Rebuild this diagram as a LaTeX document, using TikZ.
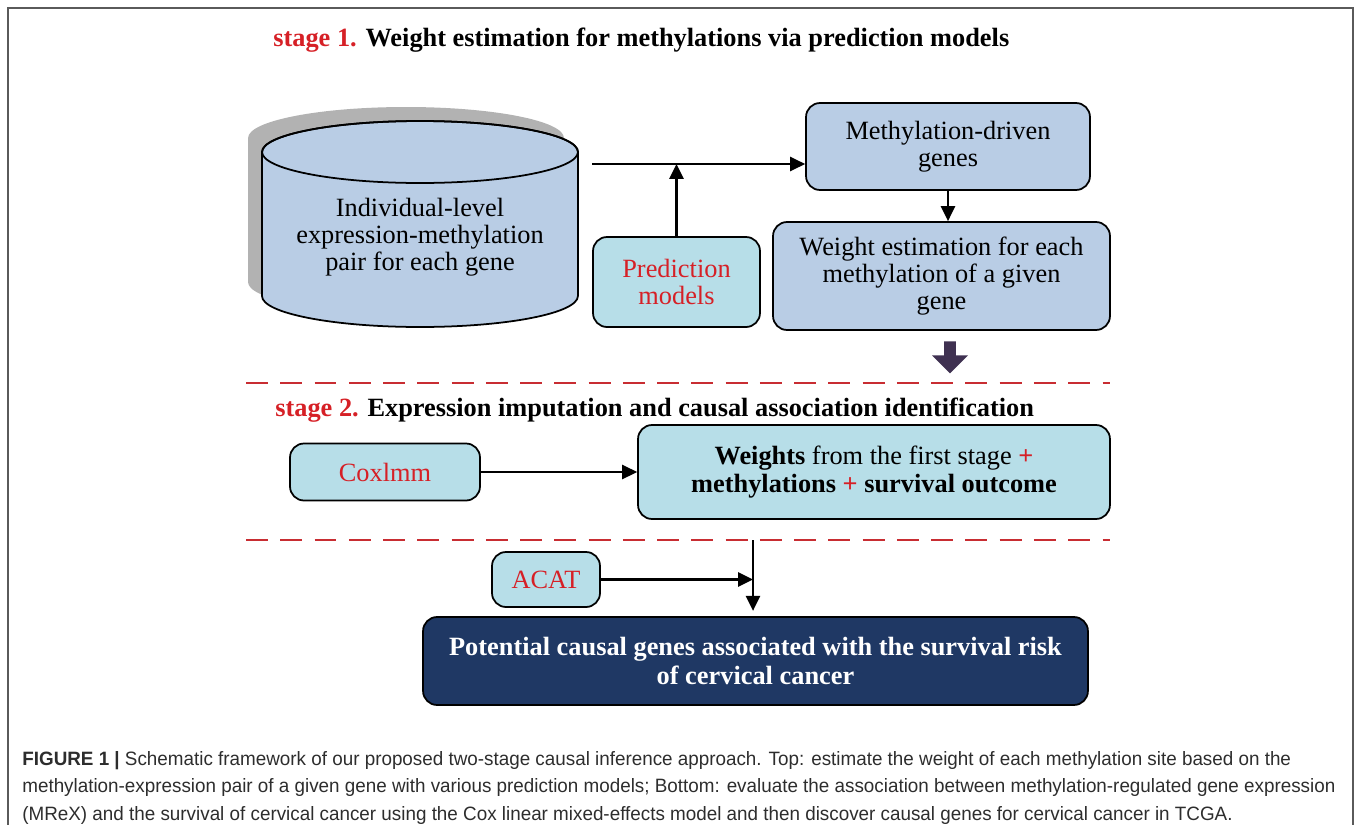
\documentclass[tikz,border=0pt]{standalone}
\usepackage{fontspec}
\setmainfont{Liberation Serif}
\newfontfamily\capfont[FakeStretch=0.975]{Liberation Sans}
\usetikzlibrary{arrows.meta,shapes.arrows,positioning,calc}
\definecolor{boxblue}{RGB}{185,205,229}
\definecolor{boxcyan}{RGB}{183,222,232}
\definecolor{navybox}{RGB}{31,56,100}
\definecolor{stagered}{RGB}{214,32,38}
\definecolor{dashred}{RGB}{200,45,50}
\definecolor{fatarrow}{RGB}{63,49,81}
\definecolor{framegray}{RGB}{90,90,90}
\definecolor{capgray}{RGB}{45,45,45}
\definecolor{shadowgray}{RGB}{178,178,178}

\begin{document}
\begin{tikzpicture}[x=0.02cm, y=-0.02cm,
    every node/.style={font=\fontsize{15}{15.5}\selectfont},
    box/.style={draw, line width=1pt, rounded corners=0.28cm, align=center, inner sep=0pt},
    bluebox/.style={box, fill=boxblue},
    cyanbox/.style={box, fill=boxcyan},
    conn/.style={line width=1.3pt, -{Triangle[length=8.5pt,width=8pt]}},
    sep/.style={dashred, line width=1.7pt, dash pattern=on 12.5pt off 7pt}]
    \useasboundingbox (0,0) rectangle (1357,825);
    \draw[framegray, line width=1.2pt] (8,840) -- (8,8) -- (1353,8) -- (1353,840);

    % stage 1
    \node[anchor=west, inner sep=0pt, font=\fontsize{15}{15.5}\selectfont\bfseries] (title1) at (273,40)
        {\textcolor{stagered}{stage 1.} Weight estimation for methylations via prediction models};

    % data cylinder with its shadow
    \fill[shadowgray] (248,138) -- (248,282) arc[start angle=180, end angle=360, x radius=3.16cm, y radius=0.62cm]
        -- (564,138) arc[start angle=0, end angle=180, x radius=3.16cm, y radius=0.62cm] -- cycle;
    \filldraw[fill=boxblue, line width=1pt] (262,152) -- (262,296) arc[start angle=180, end angle=360, x radius=3.16cm, y radius=0.62cm]
        -- (578,152) arc[start angle=0, end angle=180, x radius=3.16cm, y radius=0.62cm] -- cycle;
    \draw[line width=1pt] (420,152) ellipse[x radius=3.16cm, y radius=0.62cm];
    \node[align=center] (data) at (420,237) {Individual-level\\expression-methylation\\pair for each gene};

    \node[bluebox, minimum width=5.68cm, minimum height=1.74cm] (genes) at (948,146.5) {Methylation-driven\\genes};
    \node[cyanbox, text=stagered, minimum width=3.34cm, minimum height=1.8cm] (pred) at (676.5,282) {Prediction\\models};
    \node[bluebox, minimum width=6.74cm, minimum height=2.16cm] (west) at (941.5,276) {Weight estimation for each\\methylation of a given\\gene};
    \node[single arrow, shape border rotate=270, fill=fatarrow, inner sep=0.1cm, minimum width=0.72cm,
        minimum height=0.64cm, single arrow head extend=0.22cm] (down) at (950,354.5) {};

    \coordinate (cylout) at (592,164);
    \draw[conn] (cylout) -- (cylout -| genes.west);
    \draw[conn] (pred.north) -- (pred.north |- cylout);
    \draw[conn] (genes.south -| 948,0) -- (west.north -| 948,0);

    \draw[sep] (246,383) -- (1110,383);

    % stage 2
    \node[anchor=west, inner sep=0pt, font=\fontsize{15}{15.5}\selectfont\bfseries] (title2) at (275,410)
        {\textcolor{stagered}{stage 2.} Expression imputation and causal association identification};
    \node[cyanbox, text=stagered, minimum width=3.8cm, minimum height=1.14cm] (cox) at (385,472) {Coxlmm};
    \node[cyanbox, minimum width=9.44cm, minimum height=1.88cm] (weights) at (874,472)
        {\textbf{Weights} from the first stage \textcolor{stagered}{\textbf{+}}\\
         \textbf{methylations \textcolor{stagered}{+} survival outcome}};
    \draw[conn] (cox.east) -- (weights.west);

    \draw[sep] (246,540) -- (1110,540);

    \node[cyanbox, text=stagered, minimum width=2.16cm, minimum height=1.1cm] (acat) at (546,579.5) {ACAT};
    \node[box, fill=navybox, text=white, font=\fontsize{15}{17}\selectfont\bfseries,
        minimum width=13.3cm, minimum height=1.76cm] (result) at (755.5,661)
        {Potential causal genes associated with the survival risk\\of cervical cancer};
    \coordinate (drop) at (753,540);
    \draw[conn, shorten >=3pt] (drop) -- (drop |- result.north);
    \draw[conn] (acat.east) -- (acat.east -| drop);

    % caption
    \node[anchor=base west, align=left, text=capgray, inner sep=0pt,
        font=\capfont\fontsize{11}{15.6}\selectfont] (caption) at (22,820)
        {\textbf{FIGURE 1 |} Schematic framework of our proposed two-stage causal inference approach. Top: estimate the weight of each methylation site based on the\\
         methylation-expression pair of a given gene with various prediction models; Bottom: evaluate the association between methylation-regulated gene expression\\
         (MReX) and the survival of cervical cancer using the Cox linear mixed-effects model and then discover causal genes for cervical cancer in TCGA.};
\end{tikzpicture}
\end{document}
